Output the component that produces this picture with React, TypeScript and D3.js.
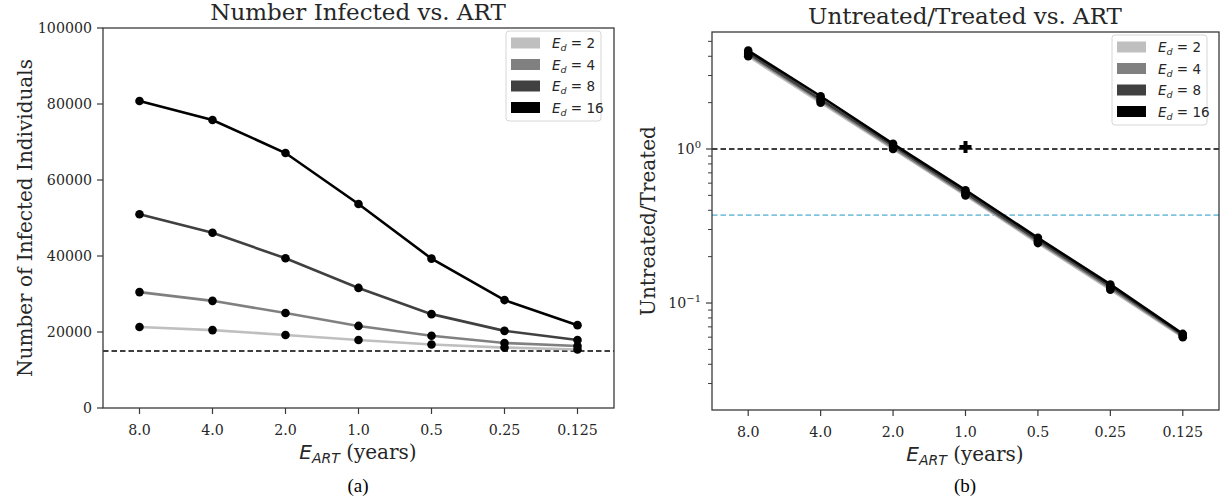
import React from 'react';
import * as d3 from 'd3';

// x categories (E_ART, years)
const ART_LABELS = ["8.0", "4.0", "2.0", "1.0", "0.5", "0.25", "0.125"];
const ED_LABELS = ["2", "4", "8", "16"];
const ED_COLORS = ["#bfbfbf", "#808080", "#404040", "#000000"];

// panel (a): number infected
const INFECTED_ED2 = [21300, 20500, 19200, 17900, 16700, 15900, 15400];
const INFECTED_ED4 = [30500, 28200, 25000, 21600, 19000, 17100, 16300];
const INFECTED_ED8 = [51000, 46100, 39400, 31600, 24700, 20300, 17900];
const INFECTED_ED16 = [80800, 75800, 67100, 53700, 39300, 28400, 21800];
const INFECTED_SERIES = [INFECTED_ED2, INFECTED_ED4, INFECTED_ED8, INFECTED_ED16];
const INFECTED_TICKS = [0, 20000, 40000, 60000, 80000, 100000];
const INFECTED_THRESHOLD = 15000;

// panel (b): untreated / treated ratio
const RATIO_ED2 = [4.0, 2.0, 1.0, 0.5, 0.245, 0.122, 0.060];
const RATIO_ED4 = [4.1, 2.05, 1.02, 0.51, 0.25, 0.125, 0.061];
const RATIO_ED8 = [4.2, 2.1, 1.05, 0.52, 0.256, 0.128, 0.062];
const RATIO_ED16 = [4.35, 2.2, 1.08, 0.54, 0.265, 0.132, 0.063];
const RATIO_SERIES = [RATIO_ED2, RATIO_ED4, RATIO_ED8, RATIO_ED16];
const RATIO_DOMAIN = [0.0202, 5.75];
const RATIO_ONE = 1.0;
const RATIO_BLUE = 0.372;
const PLUS_POINT = { x: "1.0", y: 1.03 };

const SPINE = "#3a3a3a";
const TXT = "#262626";
const SERIF = "'DejaVu Serif', serif";
const SANS = "'DejaVu Sans', sans-serif";
const TIMES = "'Liberation Serif', serif";

function Legend({ x, y }: { x: number; y: number }) {
  return (
    <g transform={`translate(${x},${y})`}>
      <rect x={0} y={0} width={95} height={90} rx={3} fill="white" fillOpacity={0.8} stroke="#d6d6d6" />
      {ED_LABELS.map((lab, i) => (
        <g key={lab} transform={`translate(0,${12 + i * 21.5})`}>
          <rect x={5} y={-5.5} width={29} height={11} fill={ED_COLORS[i]} />
          <text x={46} y={5} fontFamily={SANS} fontSize={13.5} fill={TXT}>
            <tspan fontStyle="italic">E</tspan>
            <tspan fontStyle="italic" fontSize={9.5} dy={3}>d</tspan>
            <tspan dy={-3}>{` = ${lab}`}</tspan>
          </text>
        </g>
      ))}
    </g>
  );
}

function XAxisLabel({ x, y }: { x: number; y: number }) {
  return (
    <text x={x} y={y} textAnchor="middle" fill={TXT} fontSize={20}>
      <tspan fontFamily={SANS} fontStyle="italic">E</tspan>
      <tspan fontFamily={SANS} fontStyle="italic" fontSize={14} dy={4}>ART</tspan>
      <tspan fontFamily={SERIF} dy={-4}>{" (years)"}</tspan>
    </text>
  );
}

function PanelA() {
  const x = d3.scalePoint<string>().domain(ART_LABELS).range([103, 614]).padding(0.5);
  const y = d3.scaleLinear().domain([0, 100000]).range([408, 28]);
  const line = d3.line<number>().x((_, i) => x(ART_LABELS[i])!).y(d => y(d));
  return (
    <g>
      <text x={358} y={20} textAnchor="middle" fontFamily={SERIF} fontSize={23} fill={TXT}>Number Infected vs. ART</text>
      <line x1={103} x2={614} y1={y(INFECTED_THRESHOLD)} y2={y(INFECTED_THRESHOLD)} stroke="black" strokeWidth={1.5} strokeDasharray="5.5,3" />
      {INFECTED_SERIES.map((s, k) => (
        <path key={k} d={line(s)!} fill="none" stroke={ED_COLORS[k]} strokeWidth={2.6} />
      ))}
      {INFECTED_SERIES.map((s, k) =>
        s.map((v, i) => <circle key={`${k}-${i}`} cx={x(ART_LABELS[i])} cy={y(v)} r={4.3} fill="black" />)
      )}
      <rect x={103} y={28} width={511} height={380} fill="none" stroke={SPINE} strokeWidth={1.3} />
      {INFECTED_TICKS.map(t => (
        <g key={t}>
          <line x1={97} x2={103} y1={y(t)} y2={y(t)} stroke={SPINE} strokeWidth={1.2} />
          <text x={92} y={y(t) + 5} textAnchor="end" fontFamily={SERIF} fontSize={14.2} fill={TXT}>{t}</text>
        </g>
      ))}
      {ART_LABELS.map(l => (
        <g key={l}>
          <line x1={x(l)} x2={x(l)} y1={408} y2={414} stroke={SPINE} strokeWidth={1.2} />
          <text x={x(l)} y={435} textAnchor="middle" fontFamily={SERIF} fontSize={14.2} fill={TXT}>{l}</text>
        </g>
      ))}
      <text transform="translate(32,218) rotate(-90)" textAnchor="middle" fontFamily={SERIF} fontSize={20} fill={TXT}>Number of Infected Individuals</text>
      <XAxisLabel x={358} y={459} />
      <text x={358} y={492} textAnchor="middle" fontFamily={TIMES} fontSize={19} fill="black">(a)</text>
      <Legend x={506} y={31} />
    </g>
  );
}

function PanelB() {
  const x = d3.scalePoint<string>().domain(ART_LABELS).range([712, 1219]).padding(0.5);
  const y = d3.scaleLog().domain(RATIO_DOMAIN).range([410, 32]);
  const line = d3.line<number>().x((_, i) => x(ART_LABELS[i])!).y(d => y(d));
  const minor: number[] = [];
  [0.01, 0.1, 1].forEach(dec => {
    for (let k = 2; k <= 9; k++) {
      const v = dec * k;
      if (v > RATIO_DOMAIN[0] && v < RATIO_DOMAIN[1]) minor.push(v);
    }
  });
  const majors = [{ v: 0.1, e: "−1" }, { v: 1, e: "0" }];
  const px = x(PLUS_POINT.x)!;
  const py = y(PLUS_POINT.y);
  return (
    <g>
      <text x={965} y={24} textAnchor="middle" fontFamily={SERIF} fontSize={23} fill={TXT}>Untreated/Treated vs. ART</text>
      <line x1={712} x2={1219} y1={y(RATIO_ONE)} y2={y(RATIO_ONE)} stroke="black" strokeWidth={1.5} strokeDasharray="5.5,3" />
      <line x1={712} x2={1219} y1={y(RATIO_BLUE)} y2={y(RATIO_BLUE)} stroke="#7fc3dc" strokeWidth={1.6} strokeDasharray="5.5,3" />
      {RATIO_SERIES.map((s, k) => (
        <path key={k} d={line(s)!} fill="none" stroke={ED_COLORS[k]} strokeWidth={2.6} />
      ))}
      {RATIO_SERIES.map((s, k) =>
        s.map((v, i) => <circle key={`${k}-${i}`} cx={x(ART_LABELS[i])} cy={y(v)} r={4.3} fill="black" />)
      )}
      <path d={`M${px - 2},${py - 6}h4v4h4v4h-4v4h-4v-4h-4v-4h4z`} fill="black" />
      <rect x={712} y={32} width={507} height={378} fill="none" stroke={SPINE} strokeWidth={1.3} />
      {minor.map(v => (
        <line key={v} x1={708} x2={712} y1={y(v)} y2={y(v)} stroke={SPINE} strokeWidth={1} />
      ))}
      {majors.map(m => (
        <g key={m.v}>
          <line x1={706} x2={712} y1={y(m.v)} y2={y(m.v)} stroke={SPINE} strokeWidth={1.2} />
          <text x={701} y={y(m.v) + 5} textAnchor="end" fontFamily={SERIF} fontSize={14.2} fill={TXT}>
            10<tspan fontSize={10} dy={-6}>{m.e}</tspan>
          </text>
        </g>
      ))}
      {ART_LABELS.map(l => (
        <g key={l}>
          <line x1={x(l)} x2={x(l)} y1={410} y2={416} stroke={SPINE} strokeWidth={1.2} />
          <text x={x(l)} y={437} textAnchor="middle" fontFamily={SERIF} fontSize={14.2} fill={TXT}>{l}</text>
        </g>
      ))}
      <text transform="translate(655,221) rotate(-90)" textAnchor="middle" fontFamily={SERIF} fontSize={20} fill={TXT}>Untreated/Treated</text>
      <XAxisLabel x={965} y={461} />
      <text x={965} y={492} textAnchor="middle" fontFamily={TIMES} fontSize={19} fill="black">(b)</text>
      <Legend x={1112} y={35} />
    </g>
  );
}

export default function App() {
  return (
    <svg width={1222} height={499} style={{ position: 'absolute', left: 0, top: 0, background: 'white' }}>
      <rect width={1222} height={499} fill="white" />
      <PanelA />
      <PanelB />
    </svg>
  );
}
